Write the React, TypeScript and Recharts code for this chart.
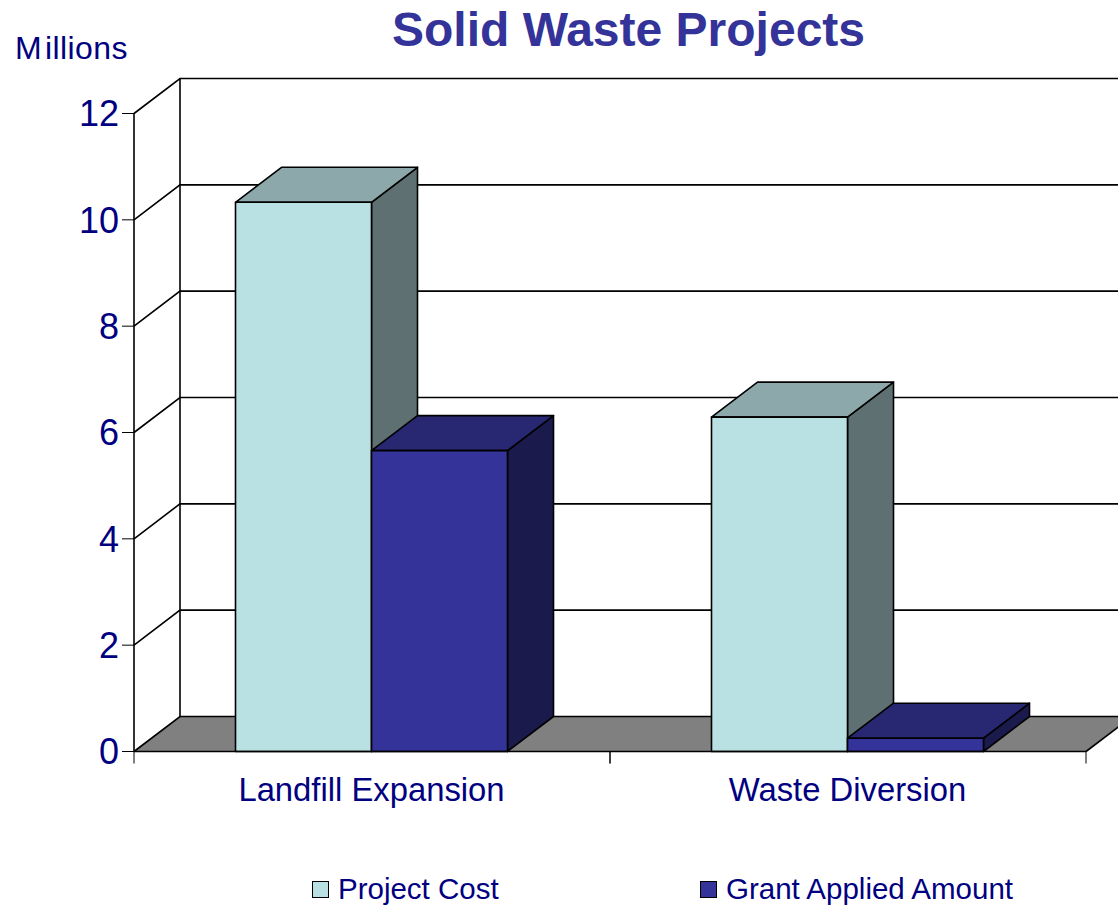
import { Bar, BarChart, CartesianGrid, Legend, XAxis, YAxis } from "recharts";

const CATEGORIES = ["Landfill Expansion", "Waste Diversion"];
const PROJECT_COST = [10.33, 6.29];
const GRANT_APPLIED = [5.66, 0.25];
const Y_TICKS = [0, 2, 4, 6, 8, 10, 12];

const data = CATEGORIES.map((name, i) => ({
  name,
  cost: PROJECT_COST[i],
  grant: GRANT_APPLIED[i],
}));

const WIDTH = 1118;
const HEIGHT = 906;
// bottom margin excludes the 30px x axis and the 40px legend, recharts adds those
const MARGIN = { top: 113.5, right: 32, bottom: 84.5, left: 54 };
const AXIS_W = 80;
const PLOT_W = WIDTH - MARGIN.left - AXIS_W - MARGIN.right;
const BASELINE = 751.5;

// oblique offset of the fake 3D depth
const DX = 46;
const DY = 35;

const NAVY = "#000080";
const FONT = '"Liberation Sans", Arial, sans-serif';
const FLOOR = "#808080";
const LIGHT = { front: "#b9e0e3", top: "#8ca8ab", side: "#5e7072" };
const DARK = { front: "#333399", top: "#272772", side: "#1a1a4d" };

function Box3D(props: any, faces: typeof LIGHT) {
  const { width, height, y } = props;
  const x = props.x - 0.5;
  const r = x + width;
  const b = y + height;
  return (
    <g stroke="#000" strokeWidth={1.6} strokeLinejoin="round">
      <polygon
        points={`${r},${y} ${r + DX},${y - DY} ${r + DX},${b - DY} ${r},${b}`}
        fill={faces.side}
      />
      <polygon
        points={`${x},${y} ${x + DX},${y - DY} ${r + DX},${y - DY} ${r},${y}`}
        fill={faces.top}
      />
      <rect x={x} y={y} width={width} height={height} fill={faces.front} />
    </g>
  );
}

// back wall, side wall and floor hang off the y axis grid lines
function WallLine(props: any) {
  const { x1, y1, x2 } = props;
  const isFloor = Math.abs(y1 - BASELINE) < 2;
  return (
    <g>
      {isFloor && (
        <>
          <polygon
            points={`${x1},${y1} ${x1 + DX},${y1 - DY} ${x2 + DX},${y1 - DY} ${x2},${y1}`}
            fill={FLOOR}
          />
          <line
            x1={x1 + DX}
            y1={y1 - DY}
            x2={x1 + DX}
            y2={MARGIN.top - DY}
            stroke="#000"
            strokeWidth={1.6}
          />
          <line x1={x2} y1={y1} x2={x2 + DX} y2={y1 - DY} stroke="#000" strokeWidth={1.6} />
        </>
      )}
      <polyline
        points={`${x1},${y1} ${x1 + DX},${y1 - DY} ${x2 + DX},${y1 - DY}`}
        fill="none"
        stroke="#000"
        strokeWidth={1.6}
      />
    </g>
  );
}

function CategoryTick(props: any) {
  const { x, payload } = props;
  const half = PLOT_W / CATEGORIES.length / 2;
  return (
    <g>
      <line x1={x - half} y1={BASELINE} x2={x - half} y2={BASELINE + 12} stroke="#000" />
      <line x1={x + half} y1={BASELINE} x2={x + half} y2={BASELINE + 12} stroke="#000" />
      <text
        x={x - 0.5}
        y={BASELINE + 49.5}
        textAnchor="middle"
        fontSize={32.8}
        fontFamily={FONT}
        fill={NAVY}
      >
        {payload.value}
      </text>
    </g>
  );
}

function LegendRow({ payload }: any) {
  const lefts = [312, 700];
  return (
    <div style={{ position: "relative", height: 40 }}>
      {(payload ?? []).map((item: any, i: number) => (
        <div
          key={item.value}
          style={{
            position: "absolute",
            left: lefts[i],
            top: 0,
            display: "flex",
            alignItems: "center",
            height: 40,
            whiteSpace: "nowrap",
            fontFamily: FONT,
            fontSize: 29.5,
            color: NAVY,
          }}
        >
          <span
            style={{
              width: 15,
              height: 15,
              border: "1.5px solid #000",
              background: item.color,
              marginRight: 9,
            }}
          />
          {item.value}
        </div>
      ))}
    </div>
  );
}

export default function App() {
  return (
    <div style={{ position: "absolute", left: 0, top: 0, width: WIDTH, height: HEIGHT, overflow: "hidden", background: "#fff" }}>
      <BarChart
        width={WIDTH}
        height={HEIGHT}
        data={data}
        margin={MARGIN}
        barCategoryGap={102}
        barGap={0}
      >
        <text
          x={628.5}
          y={46}
          textAnchor="middle"
          fontSize={48}
          fontWeight="bold"
          fontFamily={FONT}
          fill="#333399"
        >
          Solid Waste Projects
        </text>
        <text x={15} y={59} fontSize={32} letterSpacing={0.4} fontFamily={FONT} fill={NAVY}>
          <tspan>M</tspan>
          <tspan dx={3}>illions</tspan>
        </text>
        <CartesianGrid vertical={false} horizontal={(p: any) => <WallLine {...p} />} />
        <XAxis
          dataKey="name"
          tick={CategoryTick}
          tickLine={false}
          axisLine={{ stroke: "#000", strokeWidth: 1.6 }}
          interval={0}
        />
        <YAxis
          width={AXIS_W}
          domain={[0, 12]}
          ticks={Y_TICKS}
          tickSize={12}
          tickMargin={3}
          tick={{ fontSize: 36, fill: NAVY, fontFamily: FONT }}
          tickLine={{ stroke: "#000" }}
          axisLine={{ stroke: "#000", strokeWidth: 1.6 }}
        />
        <Legend
          verticalAlign="bottom"
          itemSorter="dataKey"
          content={<LegendRow />}
          wrapperStyle={{ position: "absolute", left: 0, top: 869, width: WIDTH, bottom: "auto" }}
        />
        <Bar
          dataKey="cost"
          name="Project Cost"
          fill={LIGHT.front}
          isAnimationActive={false}
          shape={(p: any) => Box3D(p, LIGHT)}
        />
        <Bar
          dataKey="grant"
          name="Grant Applied Amount"
          fill={DARK.front}
          isAnimationActive={false}
          shape={(p: any) => Box3D(p, DARK)}
        />
      </BarChart>
    </div>
  );
}
